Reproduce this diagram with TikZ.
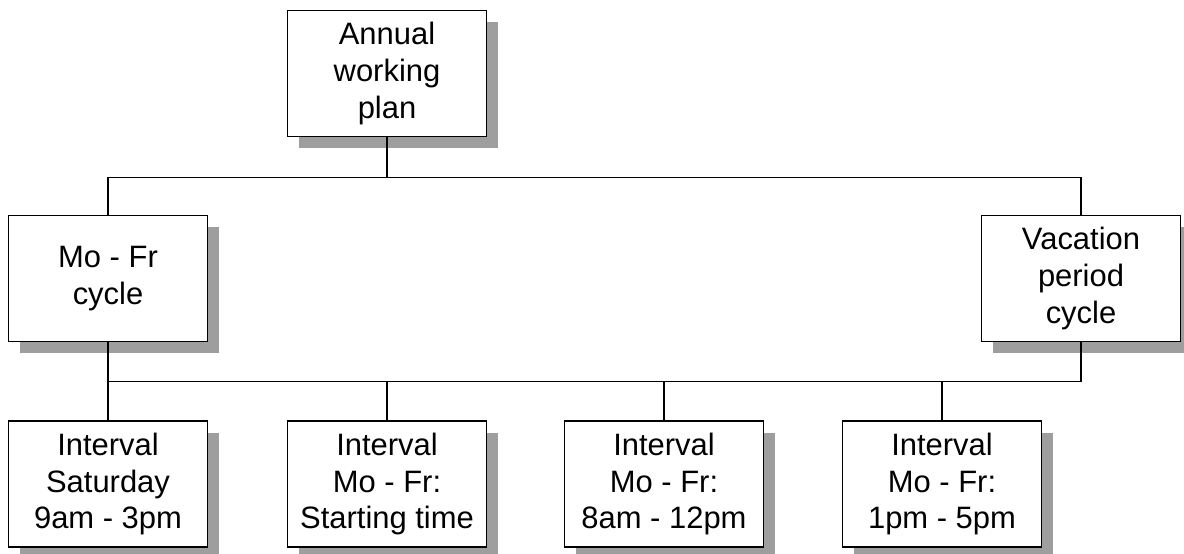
\documentclass[tikz,border=0pt]{standalone}
\usepackage{fontspec}
\setmainfont{Liberation Sans}
\usetikzlibrary{shadows}

\tikzset{
  plainbox/.style={draw, line width=1pt, fill=white, align=center,
    minimum width=4.975cm, minimum height=3.15cm, inner sep=0pt,
    font=\fontsize{22}{26.3}\selectfont,
    drop shadow={shadow xshift=0.29cm, shadow yshift=-0.29cm, fill=black!38, opacity=1}},
  wire/.style={line width=1pt}
}

\begin{document}
\begin{tikzpicture}[x=0.025cm, y=-0.025cm]
\useasboundingbox (0,0) rectangle (1184,553);

\node[plainbox] (plan) at (387,73.5) {Annual\\working\\plan};
\node[plainbox] (mofr) at (108,278.5) {Mo - Fr\\cycle};
\node[plainbox] (vac) at (1081,278.5) {Vacation\\period\\cycle};

\node[plainbox] (sat) at (108,484) {Interval\\Saturday\\9am - 3pm};
\node[plainbox] (start) at (387,484) {Interval\\Mo - Fr:\\Starting time};
\node[plainbox] (morning) at (664,484) {Interval\\Mo - Fr:\\8am - 12pm};
\node[plainbox] (afternoon) at (942,484) {Interval\\Mo - Fr:\\1pm - 5pm};

\coordinate (bus1) at (387,177.5);
\coordinate (bus2) at (108,381.5);

\draw[wire] (plan.south) -- (bus1);
\draw[wire] (mofr.north) |- (bus1) -| (vac.north);
\draw[wire] (mofr.south) -- (mofr.south |- bus2) -| (vac.south);
\draw[wire] (sat.north) -- (sat.north |- bus2);
\draw[wire] (start.north) -- (start.north |- bus2);
\draw[wire] (morning.north) -- (morning.north |- bus2);
\draw[wire] (afternoon.north) -- (afternoon.north |- bus2);
\end{tikzpicture}
\end{document}
